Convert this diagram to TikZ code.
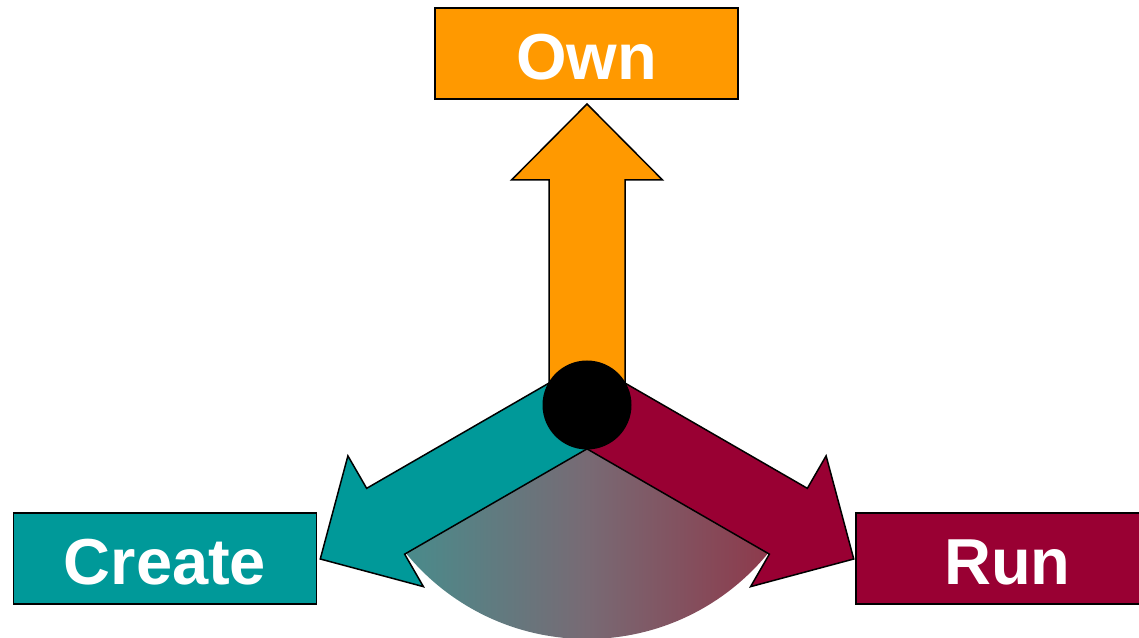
\documentclass[tikz,border=0pt]{standalone}
\usepackage{fontspec}
\setmainfont{Liberation Sans}
\usetikzlibrary{calc}
\definecolor{ownor}{RGB}{255,153,0}
\definecolor{crteal}{RGB}{0,153,153}
\definecolor{runred}{RGB}{153,0,51}
\definecolor{gleft}{RGB}{72,140,140}
\definecolor{gmid}{RGB}{120,106,116}
\definecolor{gright}{RGB}{142,56,74}
\tikzset{
  bigarrowshape/.style={draw=black, line width=1.5pt, line join=miter},
  labelbox/.style={draw=black, line width=1.5pt, minimum width=303pt, minimum height=91pt,
    inner sep=0pt, text=white, font=\fontsize{65}{70}\selectfont\bfseries,
    text height=52pt, text depth=0pt},
  hubdot/.style={circle, fill=black, minimum size=89pt, inner sep=0pt},
}
\newcommand\drawbigarrow[4]{%
  \fill[#1, bigarrowshape, shift={(hubc)}, rotate=#2]
    (0,-38) -- (#3,-38) -- (#3,-75.5) -- (#4,0) -- (#3,75.5) -- (#3,38) -- (0,38) -- cycle;}
\begin{document}
\begin{tikzpicture}[x=1pt,y=1pt]
\useasboundingbox (0,0) rectangle (1139,637);
\clip (0,0) rectangle (1139,637);
\coordinate (hubc) at (587,232);
\coordinate (apex) at (587,188.5);
% gradient wedge
\begin{scope}
  \clip (apex) -- ($(apex)+(210:500)$) -- ($(apex)+(330:500)$) -- cycle;
  \clip (hubc) circle (234);
  \shade[left color=gleft, right color=gright, middle color=gmid] (400,-5) rectangle (775,192);
\end{scope}
% arrows
\drawbigarrow{ownor}{90}{225}{301}
\drawbigarrow{crteal}{210}{232.5}{308}
\drawbigarrow{runred}{330}{232.5}{308}
% hub
\node[hubdot] (hub) at (hubc) {};
% label boxes
\node[labelbox, fill=ownor] (own) at (586.5,583.5) {Own};
\node[labelbox, fill=crteal] (create) at (165,78.5) {Create};
\node[labelbox, fill=runred] (run) at (1007.5,78.5) {Run};
\end{tikzpicture}
\end{document}
